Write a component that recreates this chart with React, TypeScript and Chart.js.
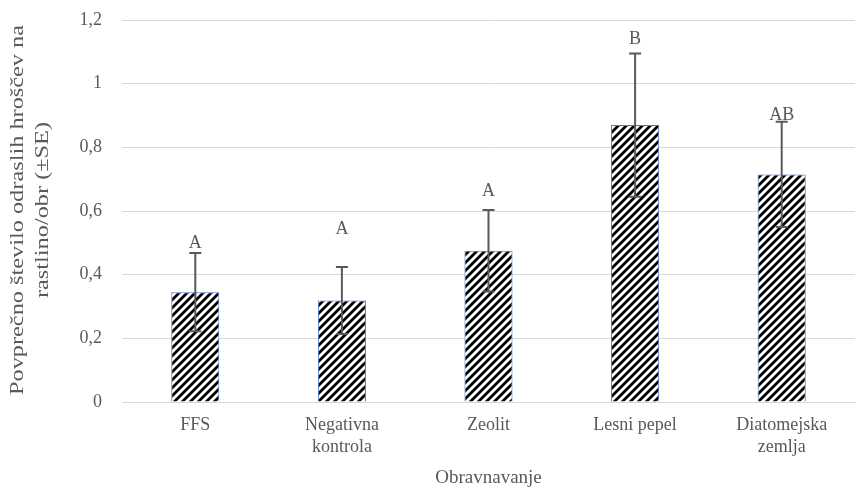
import React, { useEffect, useRef } from "react";
import { Chart, registerables } from "chart.js";

Chart.register(...registerables);

const categories: (string | string[])[] = ["FFS", ["Negativna", "kontrola"], "Zeolit", "Lesni pepel", ["Diatomejska", "zemlja"]];
const means = [0.345, 0.319, 0.475, 0.87, 0.715];
const standardErrors = [0.123, 0.105, 0.128, 0.225, 0.165];
const groupLetters = ["A", "A", "A", "B", "AB"];
const letterValues = [0.5, 0.542, 0.662, 1.14, 0.9];
const yTicks = [0, 0.2, 0.4, 0.6, 0.8, 1.0, 1.2];
const yTitleLines = ["Povprečno število odraslih hroščev na", "rastlino/obr (±SE)"];
const xTitle = "Obravnavanje";

const SERIF = "'Liberation Serif', 'Times New Roman', serif";
const TEXT = "#595959";

Chart.defaults.font.family = SERIF;

function makePattern(): CanvasPattern | string {
  const c = document.createElement("canvas");
  const s = 8;
  c.width = s;
  c.height = s;
  const g = c.getContext("2d");
  if (!g) return "#000";
  g.fillStyle = "#fff";
  g.fillRect(0, 0, s, s);
  g.strokeStyle = "#000";
  g.lineWidth = 2.8;
  g.lineCap = "square";
  g.beginPath();
  g.moveTo(-2, s + 2);
  g.lineTo(s + 2, -2);
  g.moveTo(-2, 2);
  g.lineTo(2, -2);
  g.moveTo(s - 2, s + 2);
  g.lineTo(s + 2, s - 2);
  g.stroke();
  const p = g.createPattern(c, "repeat");
  return p || "#000";
}

const errorPlugin = {
  id: "errorBarsLetters",
  afterDatasetsDraw(chart: any) {
    const ctx = chart.ctx;
    const y = chart.scales.y;
    const meta = chart.getDatasetMeta(0);
    ctx.save();
    meta.data.forEach((bar: any, i: number) => {
      const x = bar.x;
      const top = y.getPixelForValue(means[i] + standardErrors[i]);
      const bot = y.getPixelForValue(means[i] - standardErrors[i]);
      ctx.strokeStyle = "#595959";
      ctx.lineWidth = 2;
      ctx.beginPath();
      ctx.moveTo(x, top);
      ctx.lineTo(x, bot);
      ctx.moveTo(x - 6, top);
      ctx.lineTo(x + 6, top);
      ctx.moveTo(x - 6, bot);
      ctx.lineTo(x + 6, bot);
      ctx.stroke();
      ctx.fillStyle = TEXT;
      ctx.font = `18px ${SERIF}`;
      ctx.textAlign = "center";
      ctx.textBaseline = "middle";
      ctx.fillText(groupLetters[i], x, y.getPixelForValue(letterValues[i]));
    });
    // y-axis title (stretched along its length like the reference)
    const area = chart.chartArea;
    const cy = (area.top + area.bottom) / 2 - 1;
    ctx.font = `19px ${SERIF}`;
    ctx.fillStyle = TEXT;
    ctx.textAlign = "center";
    ctx.textBaseline = "middle";
    yTitleLines.forEach((line, k) => {
      ctx.save();
      ctx.translate(18 + k * 25, cy);
      ctx.rotate(-Math.PI / 2);
      ctx.scale(1.28, 1);
      ctx.fillText(line, 0, 0);
      ctx.restore();
    });
    ctx.restore();
  },
};

export default function App() {
  const ref = useRef<HTMLCanvasElement>(null);
  useEffect(() => {
    if (!ref.current) return;
    const pattern = makePattern();
    const chart = new Chart(ref.current, {
      type: "bar",
      data: {
        labels: categories,
        datasets: [
          {
            data: means,
            backgroundColor: pattern as any,
            borderColor: "#4472C4",
            borderWidth: 1,
            barPercentage: 1,
            categoryPercentage: 0.328,
          },
        ],
      },
      options: {
        animation: false,
        responsive: false,
        devicePixelRatio: 1,
        font: { family: SERIF },
        layout: { padding: { top: 20, right: 5, left: 0, bottom: 12 } },
        plugins: { legend: { display: false }, tooltip: { enabled: false }, title: { display: false } },
        scales: {
          x: {
            grid: { display: false, drawTicks: false },
            border: { display: true, color: "#d9d9d9", width: 1 },
            ticks: { color: TEXT, font: { family: SERIF, size: 18, lineHeight: 1.25 }, padding: 12 },
            title: { display: true, text: xTitle, color: TEXT, font: { family: SERIF, size: 19 }, padding: { top: 4, bottom: 0 } },
            afterFit: (s: any) => { s.height = 87; },
          },
          y: {
            min: 0,
            max: 1.2,
            afterBuildTicks: (s: any) => { s.ticks = yTicks.map((v) => ({ value: v })); },
            grid: { color: "#d9d9d9", lineWidth: 1, drawTicks: false },
            border: { display: false },
            ticks: {
              color: TEXT,
              font: { family: SERIF, size: 18 },
              padding: 20,
              callback: (v: any) => String(Math.round(Number(v) * 10) / 10).replace(".", ","),
            },
            title: { display: false },
            afterFit: (s: any) => { s.width = 122; s.paddingTop = 0; s.paddingBottom = 0; },
          },
        },
      },
      plugins: [errorPlugin],
    });
    return () => chart.destroy();
  }, []);
  return (
    <div style={{ position: "absolute", left: 0, top: 0, width: 860, height: 501, background: "#fff" }}>
      <canvas ref={ref} width={860} height={501} style={{ width: 860, height: 501 }} />
    </div>
  );
}
